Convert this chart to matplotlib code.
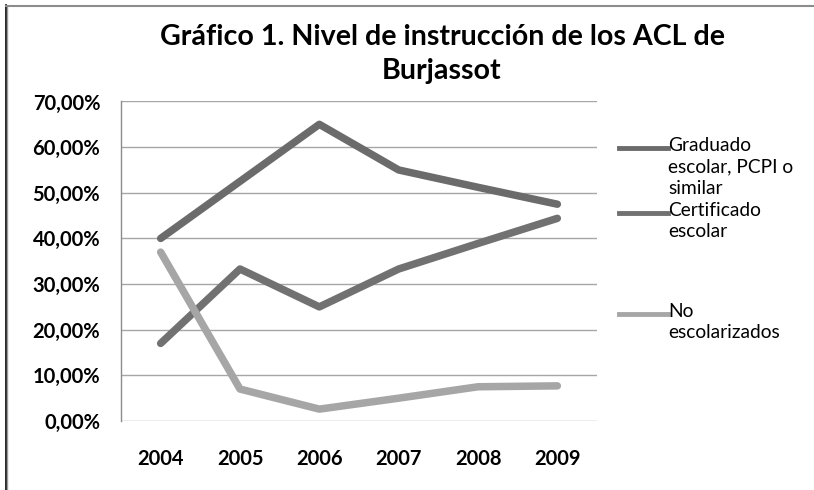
#%%
# Gráfico 1. Nivel de instrucción de los ACL de Burjassot
import matplotlib
matplotlib.use("Agg")
import matplotlib.pyplot as plt
from matplotlib.lines import Line2D
from matplotlib.ticker import FuncFormatter

plt.rcParams['font.family'] = ['Lato', 'DejaVu Sans']

#%%
# Datos
years = ['2004', '2005', '2006', '2007', '2008', '2009']
graduado = [40.0, 52.5, 65.0, 55.0, 51.2, 47.5]
certificado = [17.0, 33.3, 25.0, 33.3, 38.9, 44.4]
no_escol = [37.0, 7.0, 2.6, 5.0, 7.5, 7.7]

labels = ['Graduado\nescolar, PCPI o\nsimilar', 'Certificado\nescolar', 'No\nescolarizados']
colors = ['#6b6b6b', '#717171', '#a6a6a6']

W, H = 814, 490
def fx(px):
    return px / W
def fy(py):
    return 1 - py / H

#%%
fig = plt.figure(figsize=(W / 100, H / 100), dpi=100)
ax = fig.add_axes([fx(121), fy(421), (597 - 121) / W, (421 - 101.5) / H])

x = list(range(len(years)))
for serie, c in zip([graduado, certificado, no_escol], colors):
    ax.plot(x, [v / 100 for v in serie], color=c, lw=5.4, solid_capstyle='round',
            solid_joinstyle='round', zorder=3)

ax.set_xlim(-0.5, len(years) - 0.5)
ax.set_ylim(0, 0.7)
ax.set_yticks([i / 10 for i in range(8)])
ax.yaxis.set_major_formatter(FuncFormatter(lambda v, p: f"{v * 100:.2f}%".replace('.', ',')))
ax.set_xticks(x)
ax.set_xticklabels(years)
ax.grid(axis='y', color='#a6a6a6', lw=1.0)
ax.set_axisbelow(True)
for s in ['top', 'right', 'bottom']:
    ax.spines[s].set_visible(False)
ax.spines['left'].set_color('#8c8c8c')
ax.spines['left'].set_linewidth(1.0)
ax.tick_params(length=0, labelsize=14.5, colors='black')
ax.tick_params(axis='y', pad=15)
ax.tick_params(axis='x', pad=20)
for t in ax.get_xticklabels() + ax.get_yticklabels():
    t.set_fontweight('bold')

#%%
# Título
fig.text(fx(442), fy(37), 'Gráfico 1. Nivel de instrucción de los ACL de', ha='center',
         va='center', fontsize=20.6, fontweight='bold')
fig.text(fx(442), fy(71), 'Burjassot', ha='center', va='center', fontsize=20.6, fontweight='bold')

# Leyenda
for lab, c, ly in zip(labels, colors, [148, 213, 314]):
    fig.add_artist(Line2D([fx(619), fx(668)], [fy(ly), fy(ly)], color=c, lw=3.5))
    fig.text(fx(668), fy(ly - 11), lab, ha='left', va='top', fontsize=13.8, linespacing=1.32)

# Borde del área del gráfico
fig.add_artist(Line2D([fx(5.5), fx(5.5)], [fy(5), 0], color='black', lw=1.2))
fig.add_artist(Line2D([fx(7), fx(7)], [fy(7), 0], color='#9a9a9a', lw=1.0))
fig.add_artist(Line2D([fx(6), 1], [fy(6), fy(6)], color='#8c8c8c', lw=1.5))

fig.savefig('out.png', dpi=100)
